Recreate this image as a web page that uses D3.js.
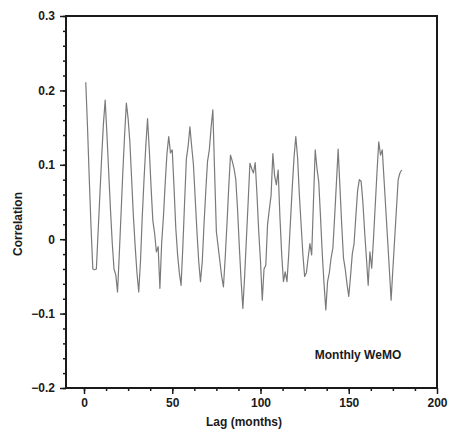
<!DOCTYPE html>
<html>
<head>
<meta charset="utf-8">
<script src="https://cdn.jsdelivr.net/npm/d3@7"></script>
<style>
  body { margin: 0; background: #fff; }
  text { font-family: "Liberation Sans", Arial, sans-serif; font-weight: bold; fill: #1a1a1a; }
</style>
</head>
<body>
<div id="chart"></div>
<script>
const width = 450,
    height = 435,
    margin = {top: 16, right: 13, bottom: 47, left: 66};

// Lag in months, 1..180
const lags = d3.range(1, 181);

// Autocorrelation, one value per monthly lag
const correlation = [
  0.211, 0.150, 0.080, 0.015, -0.040, -0.041, -0.040, 0.010, 0.060, 0.110,
  0.155, 0.187, 0.140, 0.090, 0.040, -0.005, -0.040, -0.048, -0.071, -0.020,
  0.035, 0.090, 0.140, 0.183, 0.162, 0.130, 0.080, 0.030, -0.010, -0.045,
  -0.071, -0.030, 0.030, 0.080, 0.125, 0.162, 0.120, 0.070, 0.025, 0.008,
  -0.017, -0.010, -0.066, -0.005, 0.030, 0.075, 0.115, 0.138, 0.116, 0.120,
  0.070, 0.015, -0.020, -0.045, -0.062, -0.010, 0.050, 0.108, 0.125, 0.151,
  0.125, 0.100, 0.055, 0.010, -0.030, -0.057, -0.030, 0.020, 0.065, 0.105,
  0.120, 0.150, 0.174, 0.090, 0.010, -0.010, -0.030, -0.050, -0.064, -0.025,
  0.020, 0.070, 0.113, 0.105, 0.095, 0.080, 0.040, -0.010, -0.055, -0.093,
  -0.050, 0.000, 0.050, 0.102, 0.095, 0.089, 0.103, 0.060, 0.010, -0.030,
  -0.082, -0.040, -0.035, 0.020, 0.040, 0.059, 0.115, 0.085, 0.073, 0.093,
  0.030, -0.020, -0.057, -0.044, -0.057, -0.020, 0.025, 0.070, 0.110, 0.138,
  0.110, 0.060, 0.020, -0.020, -0.050, -0.045, -0.025, -0.006, -0.021, 0.050,
  0.120, 0.095, 0.077, 0.030, -0.020, -0.060, -0.095, -0.057, -0.045, -0.025,
  -0.012, 0.030, 0.075, 0.121, 0.070, 0.020, -0.025, -0.040, -0.060, -0.077,
  -0.050, -0.020, -0.006, 0.030, 0.065, 0.080, 0.078, 0.050, 0.010, -0.025,
  -0.062, -0.017, -0.039, 0.000, 0.045, 0.090, 0.131, 0.113, 0.120, 0.080,
  0.040, 0.000, -0.040, -0.082, -0.040, 0.000, 0.040, 0.080, 0.089, 0.093
];

const xTicks = [0, 50, 100, 150, 200];
const yTicks = [-0.2, -0.1, 0, 0.1, 0.2, 0.3];

const data = lags.map((d, i) => ({lag: d, r: correlation[i]}));

const svg = d3.select("#chart").append("svg")
    .attr("width", width)
    .attr("height", height);

let x = d3.scaleLinear()
    .domain([-10.2, 200])
    .range([margin.left, width - margin.right]);

let y = d3.scaleLinear()
    .domain([-0.2, 0.3])
    .range([height - margin.bottom, margin.top]);

// minor ticks
svg.append("g")
    .attr("transform", `translate(0,${height - margin.bottom})`)
    .call(d3.axisBottom(x).tickValues(d3.range(-12.5, 200, 12.5).filter(v => v > x.domain()[0]))
        .tickSize(3).tickFormat(""))
    .call(g => g.select(".domain").remove());

svg.append("g")
    .attr("transform", `translate(${margin.left},0)`)
    .call(d3.axisLeft(y).tickValues(d3.range(-10, 16).map(v => v * 0.02))
        .tickSize(3).tickFormat(""))
    .call(g => g.select(".domain").remove());

// major ticks
let xAxis = svg.append("g")
    .attr("transform", `translate(0,${height - margin.bottom})`)
    .call(d3.axisBottom(x).tickValues(xTicks).tickSize(6).tickPadding(4).tickFormat(d3.format("d")))
    .call(g => g.select(".domain").remove());

let yAxis = svg.append("g")
    .attr("transform", `translate(${margin.left},0)`)
    .call(d3.axisLeft(y).tickValues(yTicks).tickSize(6).tickPadding(5)
        .tickFormat(d => d === 0 ? "0" : d3.format(".1f")(d)))
    .call(g => g.select(".domain").remove());

svg.selectAll(".tick line").attr("stroke", "#1a1a1a").attr("stroke-width", 1.5);
svg.selectAll(".tick text").attr("font-size", 12).style("font-weight", "bold");

// frame
svg.append("rect")
    .attr("x", margin.left)
    .attr("y", margin.top)
    .attr("width", width - margin.left - margin.right)
    .attr("height", height - margin.top - margin.bottom)
    .attr("fill", "none")
    .attr("stroke", "#1a1a1a")
    .attr("stroke-width", 2);

// the series
svg.append("path")
    .datum(data)
    .attr("fill", "none")
    .attr("stroke", "#7a7a7a")
    .attr("stroke-width", 1.2)
    .attr("stroke-linejoin", "round")
    .attr("d", d3.line().x(d => x(d.lag)).y(d => y(d.r)));

// labels
svg.append("text")
    .attr("x", 244)
    .attr("y", 426)
    .attr("text-anchor", "middle")
    .attr("font-size", 12)
    .text("Lag (months)");

svg.append("text")
    .attr("transform", "translate(22,224) rotate(-90)")
    .attr("text-anchor", "middle")
    .attr("font-size", 12)
    .text("Correlation");

svg.append("text")
    .attr("x", 358)
    .attr("y", 359)
    .attr("text-anchor", "middle")
    .attr("font-size", 12)
    .text("Monthly WeMO");
</script>
</body>
</html>
